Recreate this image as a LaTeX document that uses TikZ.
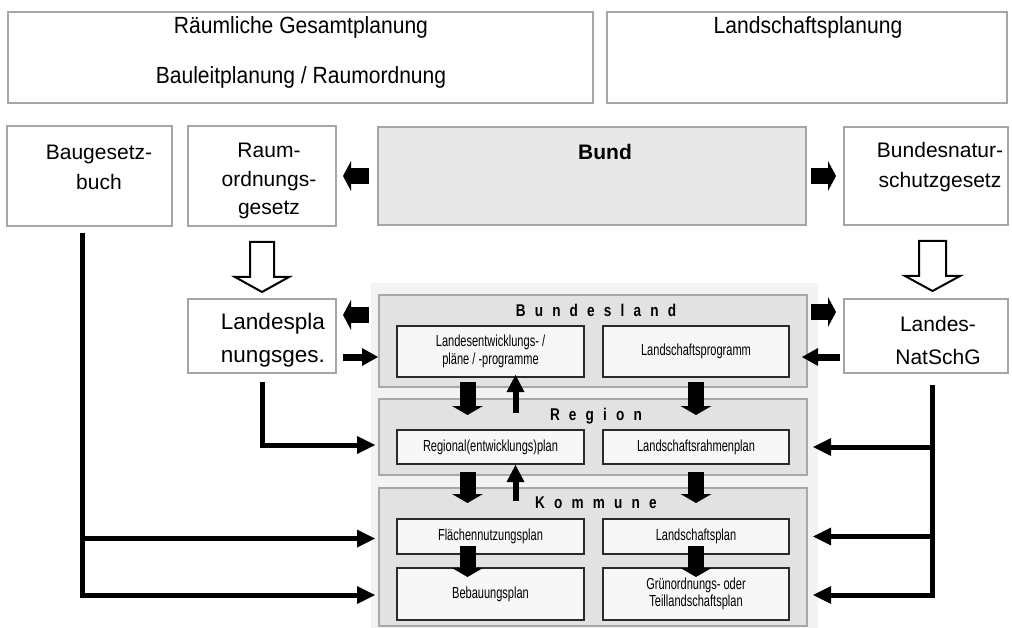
\documentclass[tikz,border=0pt]{standalone}
\usepackage{fontspec}
\setmainfont{Liberation Sans}
\newfontfamily\topfont{Liberation Sans}[FakeStretch=0.9]
\newfontfamily\narrowfont{Liberation Sans}[FakeStretch=0.69]
\newfontfamily\spacedbold{Liberation Sans Bold}[FakeStretch=0.8,LetterSpace=54]
\usetikzlibrary{arrows.meta,calc,fit}
\definecolor{boxgray}{HTML}{A6A6A6}
\definecolor{bundfill}{HTML}{E8E8E8}
\definecolor{scanbg}{HTML}{F4F2F2}
\definecolor{panelfill}{HTML}{E2E2E2}
\definecolor{panelline}{HTML}{A8A8A8}
\definecolor{inline}{HTML}{2A2A2A}
\definecolor{infill}{HTML}{F7F7F7}
\newcommand\bigtxt{\fontsize{21pt}{30pt}\selectfont}
\begin{document}
\begin{tikzpicture}[x=1pt,y=-1pt,
  outerbox/.style={draw=boxgray, line width=1.4pt, fill=white, inner sep=0pt, outer sep=0pt},
  panel/.style={draw=panelline, line width=1.3pt, fill=panelfill, inner sep=0pt, outer sep=0pt},
  inbox/.style={draw=inline, line width=1.8pt, fill=infill, inner sep=0pt, outer sep=0pt},
  intxt/.style={inner sep=0pt, font=\narrowfont\fontsize{16pt}{17.5pt}\selectfont, align=center},
  txt/.style={inner sep=0pt, font=\bigtxt, align=center},
  toptxt/.style={inner sep=0pt, font=\topfont\fontsize{23.4pt}{28pt}\selectfont},
  grouplabel/.style={inner sep=0pt, font=\spacedbold\fontsize{17pt}{18pt}\selectfont},
  bigarrow/.style={line width=16pt, -{Triangle[length=8pt,width=30pt,line width=0pt]}},
  smallarrow/.style={line width=7pt, -{Triangle[length=16pt,width=18pt,line width=0pt]}},
  downarrow/.style={line width=16pt, -{Triangle[length=9pt,width=31pt,line width=0pt]}},
  uparrow/.style={line width=6pt, -{Triangle[length=17pt,width=18pt,line width=0pt]}},
  linearrow/.style={line width=5pt, line join=miter, -{Triangle[length=18pt,width=18pt,line width=0pt]}},
  hollow/.style={draw=black, line width=2pt, fill=white, line join=miter}
]
\useasboundingbox (0,0) rectangle (1012,628);
\fill[white] (0,0) rectangle (1012,628);

% top boxes
\node[outerbox, fit={(8,12) (593,103)}] (gesamt) {};
\node[outerbox, fit={(607,12) (1007,103)}] (lplan) {};
\node[toptxt] (tgesamt1) at (301,27) {Räumliche Gesamtplanung};
\node[toptxt] (tgesamt2) at (301,77) {Bauleitplanung / Raumordnung};
\node[toptxt] (tlplan) at (808,27) {Landschaftsplanung};

% federal level
\node[outerbox, fit={(7,126) (172,226)}] (bgb) {};
\node[outerbox, fit={(188,126) (336,226)}] (rog) {};
\node[outerbox, fill=bundfill, fit={(378,127) (806,225)}] (bund) {};
\node[outerbox, fit={(844,127) (1008,225)}] (bnatg) {};
\node[txt] (tbgb) at (99,167) {Baugesetz-\\buch};
\node[txt, font=\fontsize{21pt}{28.5pt}\selectfont] (trog) at (269,181) {Raum-\\ordnungs-\\gesetz};
\node[txt, font=\bigtxt\bfseries] (tbund) at (605,152) {Bund};
\node[txt] (tbnatg) at (940,167) {Bundesnatur-\\schutzgesetz};

% state level laws
\node[outerbox, fit={(188,299) (336,373)}] (lplg) {};
\node[outerbox, fit={(844,299) (1008,373)}] (lnatg) {};
\node[txt, font=\fontsize{22.5pt}{33pt}\selectfont, align=right, anchor=east] (tlplg) at (325,340) {Landespla\\nungsges.};
\node[txt, font=\fontsize{21pt}{33pt}\selectfont] (tlnatg) at (938,340) {Landes-\\NatSchG};

% scanned panel
\fill[scanbg] (371,283) rectangle (818,628);
\node[panel, fit={(379,295) (807,387)}] (pland) {};
\node[panel, fit={(379,399) (807,475)}] (preg) {};
\node[panel, fit={(379,488) (807,626)}] (pkom) {};
\node[grouplabel] (tpland) at (596,310) {Bundesland};
\node[grouplabel] (tpreg) at (596,416) {Region};
\node[grouplabel] (tpkom) at (596,503) {Kommune};

\node[inbox, fit={(397,326) (584,377)}] (lep) {};
\node[inbox, fit={(603,326) (789,377)}] (lprog) {};
\node[inbox, fit={(397,430) (584,464)}] (regplan) {};
\node[inbox, fit={(603,430) (789,464)}] (lrp) {};
\node[inbox, fit={(397,519) (584,554)}] (fnp) {};
\node[inbox, fit={(603,519) (789,554)}] (lp) {};
\node[inbox, fit={(397,568) (584,620)}] (bplan) {};
\node[inbox, fit={(603,568) (789,620)}] (gop) {};
\node[intxt] (tlep) at (lep.center) {Landesentwicklungs- /\\pläne / -programme};
\node[intxt] (tlprog) at (lprog.center) {Landschaftsprogramm};
\node[intxt] (tregplan) at (regplan.center) {Regional(entwicklungs)plan};
\node[intxt] (tlrp) at (lrp.center) {Landschaftsrahmenplan};
\node[intxt] (tfnp) at (fnp.center) {Flächennutzungsplan};
\node[intxt] (tlp) at (lp.center) {Landschaftsplan};
\node[intxt] (tbplan) at (bplan.center) {Bebauungsplan};
\node[intxt] (tgop) at (gop.center) {Grünordnungs- oder\\Teillandschaftsplan};

% block arrows between levels
\draw[bigarrow, shorten <=9pt, shorten >=7pt] (bund.west) -- (rog.east |- bund.west);
\draw[bigarrow, shorten <=5pt, shorten >=8pt] (bund.east) -- (bnatg.west |- bund.east);
\draw[bigarrow, shorten <=10pt, shorten >=7pt] ($(pland.north west)+(0,20)$) -- ($(lplg.north east)+(0,16)$);
\draw[bigarrow, shorten <=4pt, shorten >=8pt] ($(pland.north east)+(0,17)$) -- ($(lnatg.north west)+(0,13)$);
\draw[smallarrow, shorten <=7pt, shorten >=19pt] ($(lplg.north east)+(0,58)$) -- ($(lep.north west)+(0,31)$);
\draw[smallarrow, shorten <=4pt, shorten >=13pt] ($(lnatg.north west)+(0,58)$) -- ($(lprog.north east)+(0,31)$);

% hollow arrows
\draw[hollow] ($(rog.south)+(-12,16)$) -- ++(24,0) -- ++(0,35) -- ++(15,0)
  -- ($(rog.south)+(0,66)$) -- ++(-27,-15) -- ++(15,0) -- cycle;
\draw[hollow] ($(bnatg.south)+(-7,16)$) -- ++(27,0) -- ++(0,35) -- ++(14,0)
  -- ($(bnatg.south)+(6.5,66)$) -- ++(-27.5,-15) -- ++(14,0) -- cycle;

% arrows inside the panel
\draw[downarrow] ($(lep.south)+(-23,5)$) -- ($(regplan.north)+(-23,-15)$);
\draw[uparrow] ($(regplan.north)+(25,-17)$) -- ($(lep.south)+(25,-2)$);
\draw[downarrow] ($(lprog.south)+(0,5)$) -- ($(lrp.north)+(0,-15)$);
\draw[downarrow] ($(regplan.south)+(-23,8)$) -- ($(fnp.north)+(-23,-16)$);
\draw[uparrow] ($(fnp.north)+(25,-18)$) -- ($(regplan.south)+(25,1)$);
\draw[downarrow] ($(lrp.south)+(0,8)$) -- ($(lp.north)+(0,-16)$);
\draw[downarrow] ($(fnp.south)+(-23,-8)$) -- ($(bplan.north)+(-23,9)$);
\draw[downarrow] ($(lp.south)+(0,-8)$) -- ($(gop.north)+(0,9)$);

% line connectors
\coordinate (bgbfoot) at ($(bgb.south)+(-7.5,7)$);
\coordinate (lplgfoot) at ($(lplg.south)+(0,9)$);
\coordinate (lnatgfoot) at ($(lnatg.south)+(6,12)$);
\draw[linearrow] (bgbfoot) |- ($(fnp.west)+(-22,2)$);
\draw[linearrow] (bgbfoot) |- ($(bplan.west)+(-22,1)$);
\draw[linearrow] (lplgfoot) |- ($(regplan.west)+(-22,-2)$);
\draw[linearrow] (lnatgfoot) |- ($(lrp.east)+(24,0)$);
\draw[linearrow] (lnatgfoot) |- ($(lp.east)+(24,0)$);
\draw[linearrow] (lnatgfoot) |- ($(gop.east)+(24,1)$);
\end{tikzpicture}
\end{document}
